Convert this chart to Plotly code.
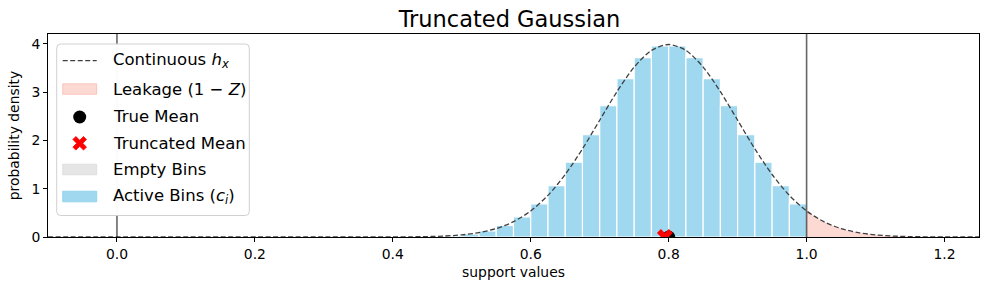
import plotly.graph_objects as go

# ---- data ----
bin_centers = [round(0.0125 + 0.025 * k, 4) for k in range(40)]
bin_heights = [0.0] * 16 + [
    0.002, 0.0056, 0.0134, 0.030, 0.064, 0.127, 0.238, 0.417, 0.688,
    1.066, 1.550, 2.119, 2.720, 3.282, 3.718, 3.958, 3.958, 3.718, 3.282,
    2.720, 2.119, 1.550, 1.066, 0.688,
]
curve_x = [-0.1, 0.3, 0.4, 0.425, 0.45, 0.475, 0.5, 0.525, 0.55, 0.575, 0.6,
           0.625, 0.65, 0.675, 0.7, 0.725, 0.75, 0.775, 0.8, 0.825, 0.85,
           0.875, 0.9, 0.925, 0.95, 0.975, 1.0, 1.025, 1.05, 1.075, 1.1,
           1.125, 1.15, 1.175, 1.2, 1.225, 1.25]
curve_y = [0.0, 0.0, 0.0013, 0.0035, 0.0087, 0.020, 0.044, 0.091, 0.175, 0.317,
           0.540, 0.863, 1.295, 1.826, 2.420, 3.011, 3.521, 3.867, 3.989,
           3.867, 3.521, 3.011, 2.420, 1.826, 1.295, 0.863, 0.540, 0.317,
           0.175, 0.091, 0.044, 0.020, 0.0087, 0.0035, 0.0013, 0.0005, 0.0002]
leak_x = [1.0, 1.025, 1.05, 1.075, 1.1, 1.125, 1.15, 1.175, 1.2, 1.225, 1.25]
leak_y = [0.540, 0.317, 0.175, 0.091, 0.044, 0.020, 0.0087, 0.0035, 0.0013, 0.0005, 0.0002]
true_mean = 0.8
trunc_mean = 0.7945
support_bounds = [0.0, 1.0]
x_ticks = [0.0, 0.2, 0.4, 0.6, 0.8, 1.0, 1.2]
y_ticks = [0, 1, 2, 3, 4]
legend_labels = ["Continuous <i>h<sub>x</sub></i>", "Leakage (1 − <i>Z</i>)", "True Mean",
                 "Truncated Mean", "Empty Bins", "Active Bins (<i>c<sub>i</sub></i>)"]

empty_x = [c for c, h in zip(bin_centers, bin_heights) if h == 0]
empty_y = [h for h in bin_heights if h == 0]
active_x = [c for c, h in zip(bin_centers, bin_heights) if h > 0]
active_y = [h for h in bin_heights if h > 0]

FONT = "DejaVu Sans"
W, H = 989, 290
ML, MR, MT, MB = 48, 10, 34, 53
PW, PH = W - ML - MR, H - MT - MB

C_CURVE = "#404040"
C_LEAK = "rgba(250,128,114,0.3)"
C_EMPTY = "rgba(211,211,211,0.6)"
C_ACTIVE = "rgba(135,206,235,0.8)"

fig = go.Figure()
fig.add_trace(go.Bar(x=empty_x, y=empty_y, width=0.025, showlegend=False,
                     marker=dict(color=C_EMPTY, line=dict(color="white", width=1.2))))
fig.add_trace(go.Bar(x=active_x, y=active_y, width=0.025, showlegend=False,
                     marker=dict(color=C_ACTIVE, line=dict(color="white", width=1.2))))
fig.add_trace(go.Scatter(x=leak_x, y=leak_y, mode="lines", fill="tozeroy", showlegend=False,
                         fillcolor=C_LEAK, line=dict(width=0, shape="spline")))
fig.add_trace(go.Scatter(x=curve_x, y=curve_y, mode="lines", showlegend=False,
                         line=dict(color=C_CURVE, width=1.3, dash="5px,2.5px", shape="spline", smoothing=0.8)))
fig.add_trace(go.Scatter(x=[true_mean], y=[0], mode="markers", showlegend=False,
                         marker=dict(color="black", size=13, symbol="circle")))
fig.add_trace(go.Scatter(x=[trunc_mean], y=[0], mode="markers", showlegend=False,
                         marker=dict(color="red", size=14, symbol="x", line=dict(width=0))))

for b in support_bounds:
    fig.add_vline(x=b, line=dict(color="rgba(0,0,0,0.6)", width=1.6), layer="above")


# ---- hand-drawn legend (matplotlib style) ----
def px(xp):
    return (xp - ML) / PW


def py(yp):
    return (MT + PH - yp) / PH


shapes = []
bx0, by0, bx1, by1, r = 56.7, 44.0, 249.3, 215.5, 4
bw, bh = bx1 - bx0, by1 - by0
box_path = (f"M {r},0 L {bw - r},0 Q {bw},0 {bw},{-r} L {bw},{-(bh - r)} Q {bw},{-bh} {bw - r},{-bh} "
            f"L {r},{-bh} Q 0,{-bh} 0,{-(bh - r)} L 0,{-r} Q 0,0 {r},0 Z")
shapes.append(dict(type="path", xref="paper", yref="paper", xsizemode="pixel", ysizemode="pixel",
                   xanchor=px(bx0), yanchor=py(by0), path=box_path, layer="above",
                   fillcolor="rgba(255,255,255,0.97)", line=dict(color="#d0d0d0", width=1)))

rows = [60.7, 89.0, 117.0, 143.3, 169.5, 196.5]
ix0, ix1 = 62.7, 96.7
icx = (ix0 + ix1) / 2
# dashed line
shapes.append(dict(type="line", xref="paper", yref="paper", x0=px(ix0), x1=px(ix1),
                   y0=py(rows[0]), y1=py(rows[0]), layer="above",
                   line=dict(color=C_CURVE, width=1.3, dash="5px,2.5px")))
# rectangles
for ri, col, edge in [(1, C_LEAK, "rgba(250,128,114,0.35)"), (4, C_EMPTY, C_EMPTY), (5, C_ACTIVE, C_ACTIVE)]:
    shapes.append(dict(type="rect", xref="paper", yref="paper", x0=px(ix0), x1=px(ix1),
                       y0=py(rows[ri] - 5.3), y1=py(rows[ri] + 5.3), layer="above",
                       fillcolor=col, line=dict(color=edge, width=1)))
# circle
cr = 6.5
shapes.append(dict(type="circle", xref="paper", yref="paper", xsizemode="pixel", ysizemode="pixel",
                   xanchor=px(icx), yanchor=py(rows[2]), x0=-cr, x1=cr, y0=-cr, y1=cr,
                   layer="above", fillcolor="black", line=dict(color="black", width=0)))
# filled X
a, t = 6.8, 3.0
pts = [(0, t), (a - t, a), (a, a - t), (t, 0), (a, -(a - t)), (a - t, -a), (0, -t),
       (-(a - t), -a), (-a, -(a - t)), (-t, 0), (-a, a - t), (-(a - t), a)]
x_path = "M " + " L ".join(f"{p[0]:.2f},{p[1]:.2f}" for p in pts) + " Z"
shapes.append(dict(type="path", xref="paper", yref="paper", xsizemode="pixel", ysizemode="pixel",
                   xanchor=px(icx), yanchor=py(rows[3]), path=x_path, layer="above",
                   fillcolor="red", line=dict(color="red", width=0.8)))

annotations = []
for lab, yy in zip(legend_labels, rows):
    annotations.append(dict(text=lab, xref="paper", yref="paper", x=px(110.5), y=py(yy),
                            xanchor="left", yanchor="middle", showarrow=False,
                            font=dict(family=FONT, size=16.5, color="black")))

axis_common = dict(showline=True, linecolor="black", linewidth=1, mirror=True,
                   ticks="outside", ticklen=4, tickcolor="black", showgrid=False,
                   zeroline=False, tickfont=dict(family=FONT, size=13.9, color="black"))

fig.update_layout(
    width=W, height=H,
    margin=dict(l=ML, r=MR, t=MT, b=MB),
    plot_bgcolor="white", paper_bgcolor="white",
    barmode="overlay",
    font=dict(family=FONT, color="black"),
    title=dict(text="Truncated Gaussian", x=509.5 / W, xanchor="center", y=1 - 19 / H, yanchor="middle",
               font=dict(family=FONT, size=22.5, color="black")),
    xaxis=dict(range=[-0.1, 1.25], tickvals=x_ticks, tickformat=".1f",
               title=dict(text="support values", font=dict(family=FONT, size=13.9), standoff=6),
               **axis_common),
    yaxis=dict(range=[0, 4.207], tickvals=y_ticks,
               title=dict(text="probability density", font=dict(family=FONT, size=13.9), standoff=8),
               **axis_common),
    showlegend=False,
)
fig.update_layout(shapes=list(fig.layout.shapes) + shapes, annotations=annotations)

fig.write_html("out.html")
